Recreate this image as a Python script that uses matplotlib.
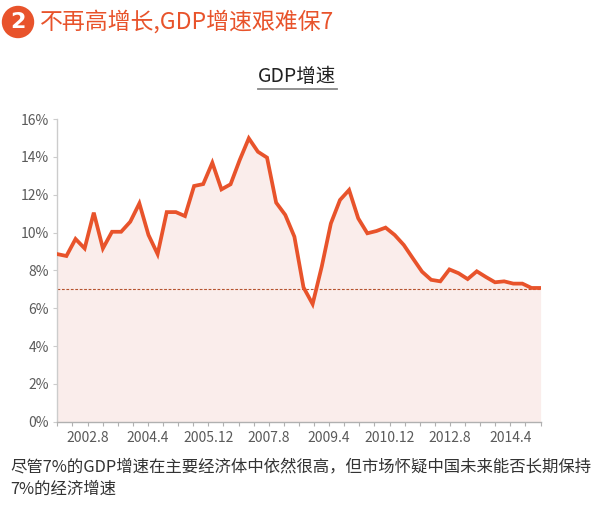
import matplotlib
matplotlib.use('Agg')
import matplotlib.pyplot as plt
from matplotlib.patches import Circle
from matplotlib.lines import Line2D
import numpy as np

plt.rcParams['font.family'] = ['Noto Sans CJK SC', 'DejaVu Sans']

# quarterly GDP growth (%)
gdp_growth = [8.86, 8.76, 9.66, 9.16, 11.05, 9.16, 10.04, 10.04, 10.57, 11.54,
              9.87, 8.86, 11.08, 11.08, 10.87, 12.46, 12.56, 13.69, 12.28, 12.55,
              13.83, 14.98, 14.27, 13.96, 11.58, 10.93, 9.78, 7.10, 6.22, 8.20,
              10.48, 11.72, 12.25, 10.75, 9.96, 10.08, 10.26, 9.87, 9.34, 8.63,
              7.93, 7.50, 7.42, 8.05, 7.85, 7.54, 7.95, 7.65, 7.37, 7.42,
              7.30, 7.30, 7.07, 7.07]
x_labels = ['2002.8', '2004.4', '2005.12', '2007.8', '2009.4', '2010.12', '2012.8', '2014.4']
y_ticks = [0, 2, 4, 6, 8, 10, 12, 14, 16]
reference_line = 7.0

header = '不再高增长,GDP增速艰难保7'
chart_title = 'GDP增速'
caption = '尽管7%的GDP增速在主要经济体中依然很高，但市场怀疑中国未来能否长期保持\n7%的经济增速'

ORANGE = '#e8532b'

fig = plt.figure(figsize=(6.0, 5.17), dpi=100)
ax = fig.add_axes([0.0955, 0.1843, 0.8055, 0.5855])

n = len(gdp_growth)
x = np.arange(n)
ax.fill_between(x, 0, gdp_growth, color='#faedeb', zorder=1, linewidth=0)
ax.plot(x, gdp_growth, color=ORANGE, lw=2.7, solid_joinstyle='miter', zorder=3)
ax.axhline(reference_line, color='#b5532e', lw=0.8, ls=(0, (2.5, 1.5)), zorder=2)

ax.set_xlim(0, n - 1)
ax.set_ylim(0, 16)
ax.set_yticks(y_ticks)
ax.set_yticklabels([f'{v}%' for v in y_ticks])

ticks = np.linspace(0, n - 1, 33)
ax.set_xticks(ticks)
lbl = [''] * len(ticks)
for i, t in enumerate(x_labels):
    lbl[2 + 4 * i] = t
ax.set_xticklabels(lbl)

for s in ['top', 'right']:
    ax.spines[s].set_visible(False)
ax.spines['left'].set_color('#cccccc')
ax.spines['bottom'].set_color('#b0b0b0')
ax.spines['left'].set_linewidth(1.0)
ax.spines['bottom'].set_linewidth(1.0)
ax.tick_params(axis='x', length=3, color='#b0b0b0', labelsize=10, labelcolor='#5a5a5a', pad=4)
ax.tick_params(axis='y', length=3, color='#cccccc', labelsize=10, labelcolor='#5a5a5a', pad=3)

# header
circ = Circle((0.18, 5.17 - 0.22), 0.155, transform=fig.dpi_scale_trans,
              color=ORANGE, zorder=5)
fig.add_artist(circ)
fig.text(0.18, 5.17 - 0.225, '2', transform=fig.dpi_scale_trans, color='white',
         fontsize=16, fontweight='bold', ha='center', va='center',
         family='DejaVu Sans', zorder=6)
fig.text(40 / 600, 1 - 22 / 517, header, color=ORANGE, fontsize=16.5,
         ha='left', va='center')

# chart title with underline
fig.text(297 / 600, 1 - 77 / 517, chart_title, color='#222222', fontsize=14,
         ha='center', va='center')
fig.add_artist(Line2D([258 / 600, 337 / 600], [1 - 89 / 517, 1 - 89 / 517],
                      transform=fig.transFigure, color='#888888', lw=1.3))

# caption
fig.text(10 / 600, 1 - 478 / 517, caption, color='#333333', fontsize=11.8,
         ha='left', va='center', linespacing=1.35)

fig.savefig('out.png', dpi=100, facecolor='white')
